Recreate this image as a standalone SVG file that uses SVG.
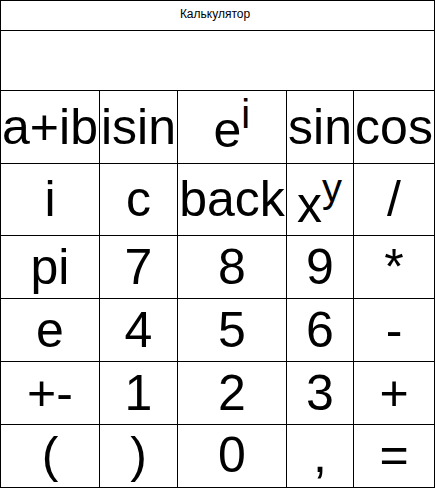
<svg xmlns="http://www.w3.org/2000/svg" width="435" height="488" viewBox="0 0 435 488">
<style>
.bg{fill:#fff}
.ln{stroke:#000;stroke-width:1;fill:none;shape-rendering:crispEdges}
.k{font-family:"Liberation Sans",Arial,sans-serif;font-size:50px;fill:#000;text-anchor:middle}
.ks{font-family:"Liberation Sans",Arial,sans-serif;font-size:50px;fill:#000}
.sup{font-size:40px}
.t{font-family:"Liberation Sans",Arial,sans-serif;font-size:12px;fill:#000;text-anchor:middle}
</style>
<rect class="bg" x="0" y="0" width="435" height="488"/>
<g id="grid">
<rect class="ln" x="0.5" y="0.5" width="434" height="487"/>
<path class="ln" d="M0 30.5H435M0 90.5H435M0 163.5H435M0 235.5H435M0 298.5H435M0 361.5H435M0 424.5H435"/>
<path class="ln" d="M99.5 90V488M177.5 90V488M286.5 90V488M353.5 90V488"/>
</g>
<g id="title"><text class="t" x="215" y="18">Калькулятор</text></g>
<g id="display"></g>
<g id="row1">
<g id="btn-aib"><text class="k" x="50" y="144">a+ib</text></g>
<g id="btn-isin"><text class="k" x="138.5" y="144">isin</text></g>
<g id="btn-ei"><text class="ks" x="213.5" y="147">e<tspan class="sup" dy="-19">i</tspan></text></g>
<g id="btn-sin"><text class="k" x="320" y="144">sin</text></g>
<g id="btn-cos"><text class="k" x="394" y="144">cos</text></g>
</g>
<g id="row2">
<g id="btn-i"><text class="k" x="50" y="216">i</text></g>
<g id="btn-c"><text class="k" x="138.5" y="216">c</text></g>
<g id="btn-back"><text class="k" x="232" y="216">back</text></g>
<g id="btn-xy"><text class="ks" x="297" y="221.5">x<tspan class="sup" dy="-20">y</tspan></text></g>
<g id="btn-div"><text class="k" x="394" y="216">/</text></g>
</g>
<g id="row3">
<g id="btn-pi"><text class="k" x="50" y="284">pi</text></g>
<g id="btn-7"><text class="k" x="138.5" y="284">7</text></g>
<g id="btn-8"><text class="k" x="232" y="284">8</text></g>
<g id="btn-9"><text class="k" x="320" y="284">9</text></g>
<g id="btn-mul"><text class="k" x="394" y="284">*</text></g>
</g>
<g id="row4">
<g id="btn-e"><text class="k" x="50" y="347">e</text></g>
<g id="btn-4"><text class="k" x="138.5" y="347">4</text></g>
<g id="btn-5"><text class="k" x="232" y="347">5</text></g>
<g id="btn-6"><text class="k" x="320" y="347">6</text></g>
<g id="btn-sub"><text class="k" x="394" y="347">-</text></g>
</g>
<g id="row5">
<g id="btn-pm"><text class="k" x="50" y="410">+-</text></g>
<g id="btn-1"><text class="k" x="138.5" y="410">1</text></g>
<g id="btn-2"><text class="k" x="232" y="410">2</text></g>
<g id="btn-3"><text class="k" x="320" y="410">3</text></g>
<g id="btn-add"><text class="k" x="394" y="410">+</text></g>
</g>
<g id="row6">
<g id="btn-lp"><text class="k" x="50" y="472">(</text></g>
<g id="btn-rp"><text class="k" x="138.5" y="472">)</text></g>
<g id="btn-0"><text class="k" x="232" y="472">0</text></g>
<g id="btn-comma"><text class="k" x="320" y="472">,</text></g>
<g id="btn-eq"><text class="k" x="394" y="472">=</text></g>
</g>
</svg>
